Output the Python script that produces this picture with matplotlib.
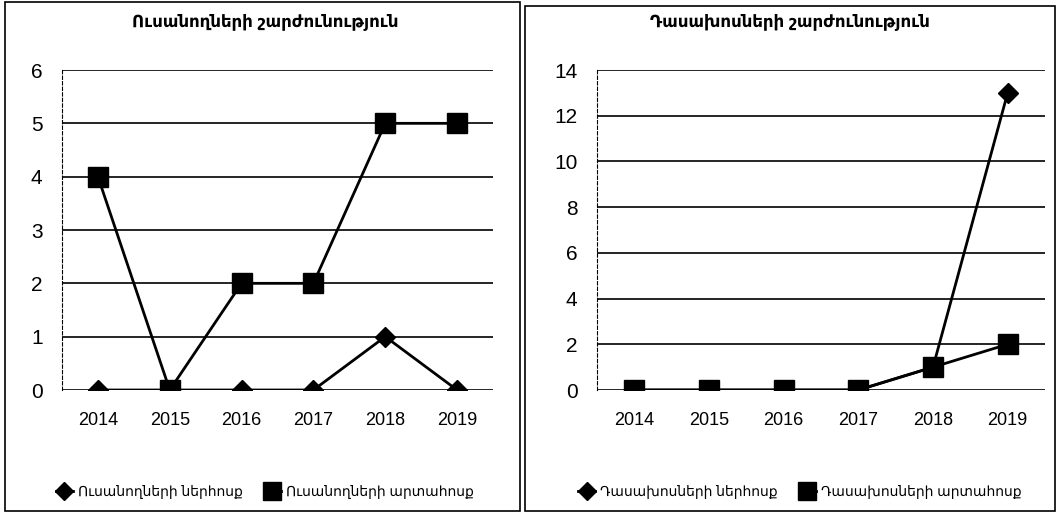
import matplotlib
matplotlib.use("Agg")
import matplotlib.pyplot as plt
from matplotlib.patches import Rectangle

plt.rcParams["font.family"] = ["Liberation Sans", "DejaVu Sans"]

years = ["2014", "2015", "2016", "2017", "2018", "2019"]

# students
stud_in = [0, 0, 0, 0, 1, 0]
stud_out = [4, 0, 2, 2, 5, 5]
# lecturers
lect_in = [0, 0, 0, 0, 1, 13]
lect_out = [0, 0, 0, 0, 1, 2]

titles = ["Ուսանողների շարժունություն", "Դասախոսների շարժունություն"]
labels_left = ["Ուսանողների ներհոսք", "Ուսանողների արտահոսք"]
labels_right = ["Դասախոսների ներհոսք", "Դասախոսների արտահոսք"]

W, H = 1057, 513
fig = plt.figure(figsize=(W / 100, H / 100), dpi=100)


def px(x0, y0, x1, y1):
    return [x0 / W, 1 - y1 / H, (x1 - x0) / W, (y1 - y0) / H]


# panel frames
fig.patches.append(Rectangle((5 / W, 1 - 511 / H), 515 / W, 509 / H,
                             transform=fig.transFigure, fill=False,
                             edgecolor="black", lw=1.2))
fig.patches.append(Rectangle((525 / W, 1 - 511 / H), 530 / W, 505 / H,
                             transform=fig.transFigure, fill=False,
                             edgecolor="black", lw=1.2))


def draw(rect, s_in, s_out, ymax, step, title, labels, legend_x, title_x):
    ax = fig.add_axes(rect)
    x = range(len(years))
    ax.plot(x, s_in, color="black", lw=2, marker="D", markersize=10,
            label=labels[0], zorder=3)
    ax.plot(x, s_out, color="black", lw=2, marker="s", markersize=14,
            label=labels[1], zorder=3)
    ax.set_xlim(-0.5, 5.5)
    ax.set_ylim(0, ymax)
    ax.set_yticks(range(0, ymax + 1, step))
    ax.set_xticks(list(x))
    ax.set_xticklabels(years)
    ax.yaxis.grid(True, color="black", lw=1.2)
    ax.set_axisbelow(True)
    for s in ["top", "right", "bottom"]:
        ax.spines[s].set_visible(False)
    ax.spines["left"].set_linestyle((0, (3, 2)))
    ax.spines["left"].set_linewidth(0.8)
    ax.tick_params(axis="y", length=0, pad=14, labelsize=15)
    ax.tick_params(axis="x", length=0, pad=16, labelsize=13)
    fig.text(title_x, 1 - 22 / H, title, ha="center", va="center",
             fontsize=12, fontweight="bold")
    fig.legend(handles=ax.get_lines(), loc="center",
               bbox_to_anchor=(legend_x, 1 - 492 / H), ncol=2, frameon=False,
               fontsize=10, handlelength=1.2, columnspacing=1.5,
               handletextpad=0.4, markerscale=0.9)
    return ax


draw(px(62, 70, 493, 390), stud_in, stud_out, 6, 1, titles[0],
     labels_left, 265 / W, 265 / W)
draw(px(597, 70, 1045, 390), lect_in, lect_out, 14, 2, titles[1],
     labels_right, 800 / W, 790 / W)

fig.savefig("out.png", dpi=100)
